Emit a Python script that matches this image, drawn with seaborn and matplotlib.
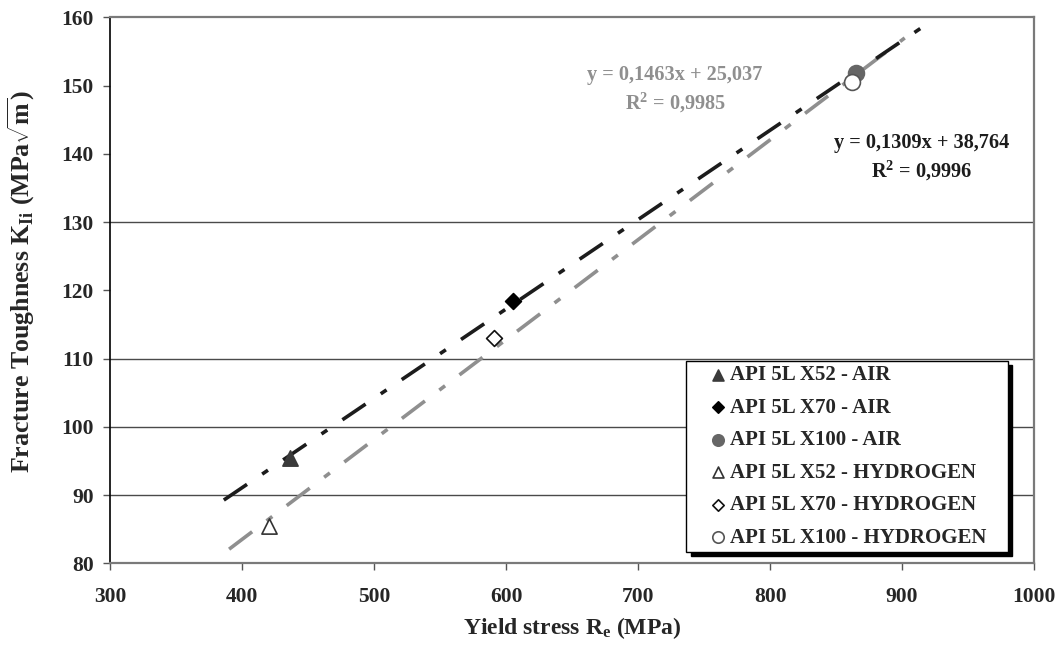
import numpy as np
import pandas as pd
import matplotlib
matplotlib.use("Agg")
import matplotlib.pyplot as plt
from matplotlib.path import Path
import seaborn as sns

# Measured points: yield stress (MPa) and fracture toughness (MPa*sqrt(m))
series_names = [
    "API 5L X52 - AIR", "API 5L X70 - AIR", "API 5L X100 - AIR",
    "API 5L X52 - HYDROGEN", "API 5L X70 - HYDROGEN", "API 5L X100 - HYDROGEN",
]
yield_stress = [436, 605, 865, 420, 591, 862]
toughness = [95.5, 118.5, 151.8, 85.5, 113.0, 150.6]

# Linear trend lines (slope, intercept, R^2) and their drawn x-range
air_slope, air_intercept, air_r2 = 0.1309, 38.764, 0.9996
h2_slope, h2_intercept, h2_r2 = 0.1463, 25.037, 0.9985
air_x_range = [386, 916]
h2_x_range = [390, 902]

grid_levels = [90, 100, 110, 130]
x_ticks = [300, 400, 500, 600, 700, 800, 900, 1000]
y_ticks = [80, 90, 100, 110, 120, 130, 140, 150, 160]

sns.set_theme(style="white")
plt.rcParams["font.family"] = ["Liberation Serif", "DejaVu Serif"]
plt.rcParams["font.weight"] = "bold"
plt.rcParams["mathtext.fontset"] = "custom"
plt.rcParams["mathtext.rm"] = "Liberation Serif:bold"
plt.rcParams["mathtext.it"] = "Liberation Serif:bold"
plt.rcParams["mathtext.bf"] = "Liberation Serif:bold"

fig = plt.figure(figsize=(10.61, 6.45), dpi=100)
ax = fig.add_axes([0.104, 0.1264, 0.8706, 0.8465])

for lvl in grid_levels:
    ax.axhline(lvl, color="#4a4a4a", lw=1.0, zorder=0.5)

# trend lines
def trend_frame(slope, intercept, xr):
    xs = np.array(xr, dtype=float)
    return pd.DataFrame({"x": xs, "y": slope * xs + intercept})

air_df = trend_frame(air_slope, air_intercept, air_x_range)
h2_df = trend_frame(h2_slope, h2_intercept, h2_x_range)
sns.lineplot(data=h2_df, x="x", y="y", ax=ax, color="#8f8f8f", lw=2.6,
             linestyle=(0, (8.0, 5.0, 2.0, 5.0)), zorder=2)
sns.lineplot(data=air_df, x="x", y="y", ax=ax, color="#1c1c1c", lw=2.6,
             linestyle=(0, (7.75, 5.07, 1.94, 5.07)), zorder=2)

styles = [
    dict(marker="^", color="#3a3a3a", edgecolor="#3a3a3a", s=120),
    dict(marker="D", color="#000000", edgecolor="#000000", s=65),
    dict(marker="o", color="#666666", edgecolor="#666666", s=130),
    dict(marker="^", color="white", edgecolor="#333333", s=120),
    dict(marker="D", color="white", edgecolor="#111111", s=65),
    dict(marker="o", color="white", edgecolor="#555555", s=130),
]
for name, xv, yv, st in zip(series_names, yield_stress, toughness, styles):
    sns.scatterplot(x=[xv], y=[yv], ax=ax, marker=st["marker"], color=st["color"],
                    edgecolor=st["edgecolor"], linewidth=1.2, s=st["s"],
                    label=name, zorder=3)

ax.set_xlim(300, 1000)
ax.set_ylim(80, 160)
ax.set_xticks(x_ticks)
ax.set_yticks(y_ticks)
ax.set_xticklabels([str(v) for v in x_ticks], fontsize=15.5, fontweight="bold")
ax.set_yticklabels([str(v) for v in y_ticks], fontsize=15.5, fontweight="bold")
ax.tick_params(axis="both", which="major", direction="out", length=5, width=1,
               color="#555555", left=True, bottom=True)
ax.tick_params(axis="x", pad=12)
ax.tick_params(axis="y", pad=7)

for side in ["top", "right", "bottom"]:
    ax.spines[side].set_color("#7a7a7a")
    ax.spines[side].set_linewidth(1.6)
ax.spines["left"].set_color("black")
ax.spines["left"].set_linewidth(1.2)

ax.set_xlabel("Yield stress R$_{\\mathrm{e}}$ (MPa)", fontsize=17, fontweight="bold", labelpad=6)
ax.set_ylabel("Fracture Toughness K$_{\\mathrm{Ii}}$ (MPa$\\sqrt{\\mathrm{m}}$)",
              fontsize=18.6, fontweight="bold")
ax.yaxis.set_label_coords(-0.079, 0.517)

def fmt(v, nd):
    return f"{v:.{nd}f}".replace(".", ",")

ax.text(728, 151.6, f"y = {fmt(h2_slope, 4)}x + {fmt(h2_intercept, 3)}",
        ha="center", va="center", fontsize=14.6, fontweight="bold", color="#8f8f8f")
ax.text(728, 147.4, f"R$^{{2}}$ = {fmt(h2_r2, 4)}",
        ha="center", va="center", fontsize=14.6, fontweight="bold", color="#8f8f8f")
ax.text(915, 141.6, f"y = {fmt(air_slope, 4)}x + {fmt(air_intercept, 3)}",
        ha="center", va="center", fontsize=14.6, fontweight="bold", color="#1c1c1c")
ax.text(915, 137.5, f"R$^{{2}}$ = {fmt(air_r2, 4)}",
        ha="center", va="center", fontsize=14.6, fontweight="bold", color="#1c1c1c")

# legend frame with extra horizontal padding only
PAD_X = 17.0

def wide_box(x0, y0, width, height, mutation_scale):
    xa, xb = x0 - PAD_X, x0 + width + PAD_X
    ya, yb = y0, y0 + height
    return Path([(xa, ya), (xb, ya), (xb, yb), (xa, yb), (xa, ya)], closed=True)

leg = ax.legend(loc="lower right", bbox_to_anchor=(0.9534, 0.021), frameon=True,
                fancybox=False, shadow={"color": "black", "alpha": 1.0, "ox": 3, "oy": -3},
                prop={"family": "Liberation Serif", "weight": "bold", "size": 15},
                markerscale=0.72, handletextpad=0.1, handlelength=1.0,
                labelspacing=0.6, borderpad=0.2, borderaxespad=0)
frame = leg.get_frame()
frame.set_boxstyle(wide_box)
frame.set_edgecolor("black")
frame.set_linewidth(1.0)

fig.savefig("out.png", dpi=100)
